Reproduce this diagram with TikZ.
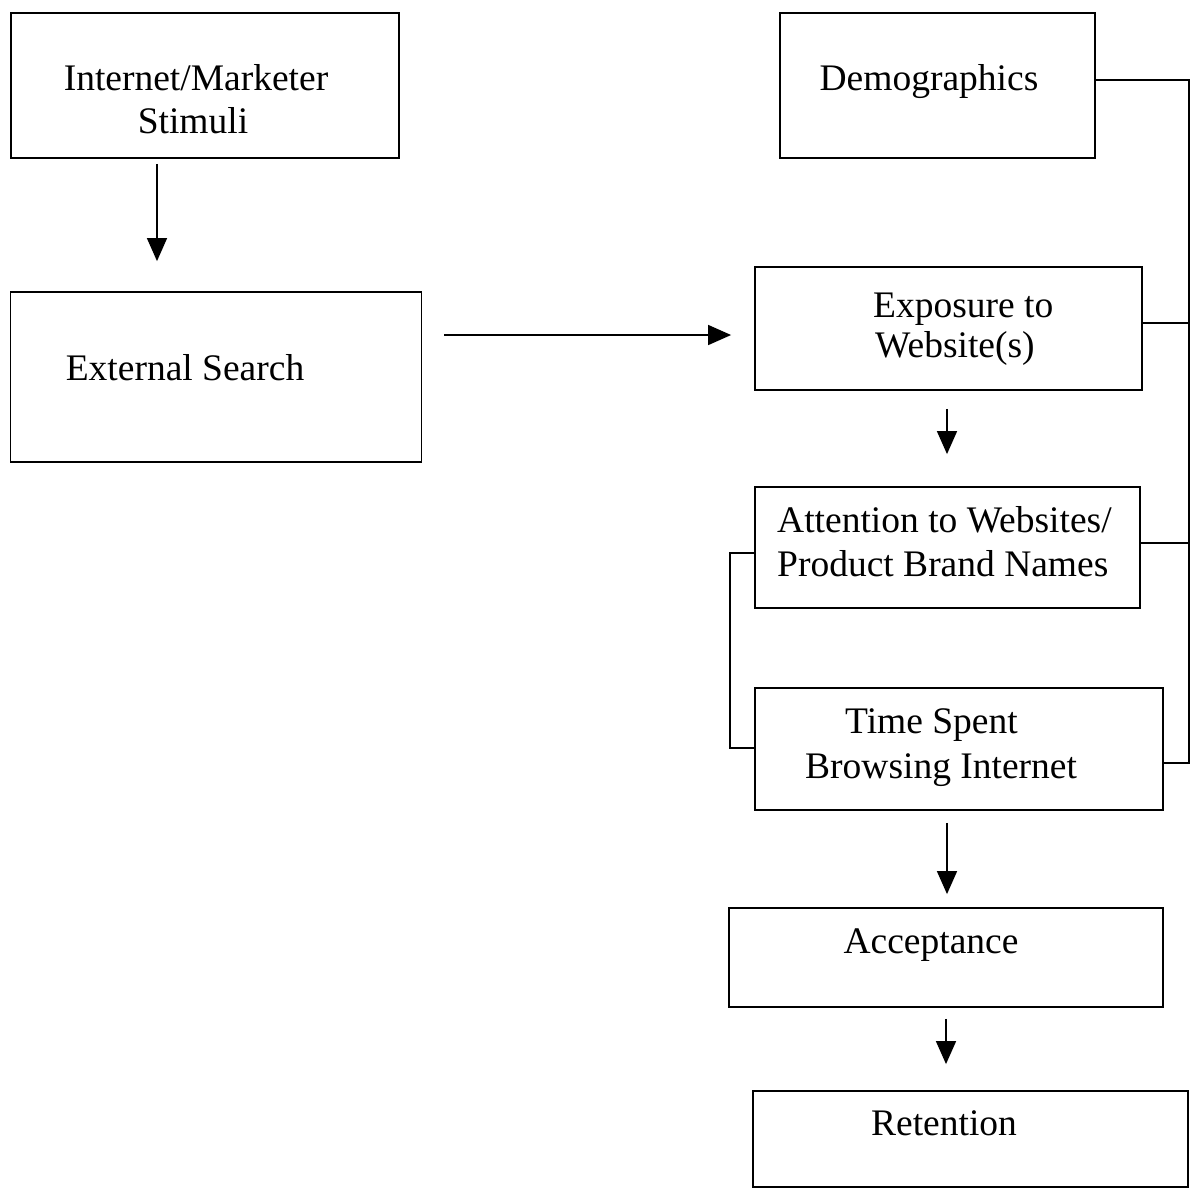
\documentclass[tikz,border=0pt]{standalone}
\usepackage{fontspec}
\setmainfont{Liberation Serif}
\usetikzlibrary{arrows.meta}
\begin{document}
\begin{tikzpicture}[x=1pt,y=-1pt,
  box/.style={draw, line width=1.8pt, inner sep=0pt, rectangle},
  txt/.style={inner sep=0pt, font=\fontsize{37.5}{44}\selectfont},
  conn/.style={line width=1.5pt},
  arr/.style={line width=1.5pt, -{Triangle[length=23pt,width=20pt]}}]
\fill[white] (0,0) rectangle (1191,1189);
\useasboundingbox (0,0) rectangle (1191,1189);

% boxes
\node[box, minimum width=388pt, minimum height=145pt] (stim) at (205,85.5) {};
\node[box, minimum width=315pt, minimum height=145pt] (dem) at (937.5,85.5) {};
\node[box, minimum width=411pt, minimum height=170pt] (ext) at (216,377) {};
\node[box, minimum width=387pt, minimum height=123pt] (expo) at (948.5,328.5) {};
\node[box, minimum width=385pt, minimum height=121pt] (att) at (947.5,547.5) {};
\node[box, minimum width=408pt, minimum height=122pt] (time) at (959,749) {};
\node[box, minimum width=434pt, minimum height=99pt] (acc) at (946,957.5) {};
\node[box, minimum width=435pt, minimum height=96pt] (ret) at (970.5,1139) {};

% texts
\node[txt, anchor=base] (stim-t1) at (196,90) {Internet/Marketer};
\node[txt, anchor=base] (stim-t2) at (193,133) {Stimuli};
\node[txt, anchor=base] (dem-t) at (929,90) {Demographics};
\node[txt, anchor=base] (ext-t) at (185,380) {External Search};
\node[txt, anchor=base west] (expo-t1) at (873,317) {Exposure to};
\node[txt, anchor=base west] (expo-t2) at (875,357) {Website(s)};
\node[txt, anchor=base west] (att-t1) at (777,532) {Attention to Websites/};
\node[txt, anchor=base west] (att-t2) at (777,576) {Product Brand Names};
\node[txt, anchor=base west] (time-t1) at (845,733) {Time Spent};
\node[txt, anchor=base west] (time-t2) at (805,778) {Browsing Internet};
\node[txt, anchor=base] (acc-t) at (931,953) {Acceptance};
\node[txt, anchor=base] (ret-t) at (944,1135) {Retention};

% arrows
\draw[arr] ([xshift=-48pt,yshift=-5pt]stim.south) -- ([xshift=-59pt,yshift=30pt]ext.north);
\draw[arr] ([xshift=22pt,yshift=42pt]ext.east) -- ([xshift=-23pt,yshift=-6.5pt]expo.west);
\draw[arr] ([xshift=-1.5pt,yshift=-18pt]expo.south) -- ([xshift=-0.5pt,yshift=32pt]att.north);
\draw[arr] ([xshift=-12pt,yshift=-12pt]time.south) -- ([xshift=1pt,yshift=13pt]acc.north);
\draw[arr] ([yshift=-11pt]acc.south) -- ([xshift=-24.5pt,yshift=26pt]ret.north);

% right bus
\coordinate (busT) at (1189,80);
\coordinate (b1) at (1189,323);
\coordinate (b2) at (1189,543);
\coordinate (busB) at (1189,763);
\draw[conn] ([yshift=5.5pt]dem.east) -- (busT) -- (busB) -- ([yshift=-14pt]time.east);
\draw[conn] ([yshift=5.5pt]expo.east) -- (b1);
\draw[conn] ([yshift=4.5pt]att.east) -- (b2);

% left bracket
\draw[conn] ([yshift=-5.5pt]att.west) -- ++(-24pt,0) |- ([yshift=1pt]time.west);
\end{tikzpicture}
\end{document}
